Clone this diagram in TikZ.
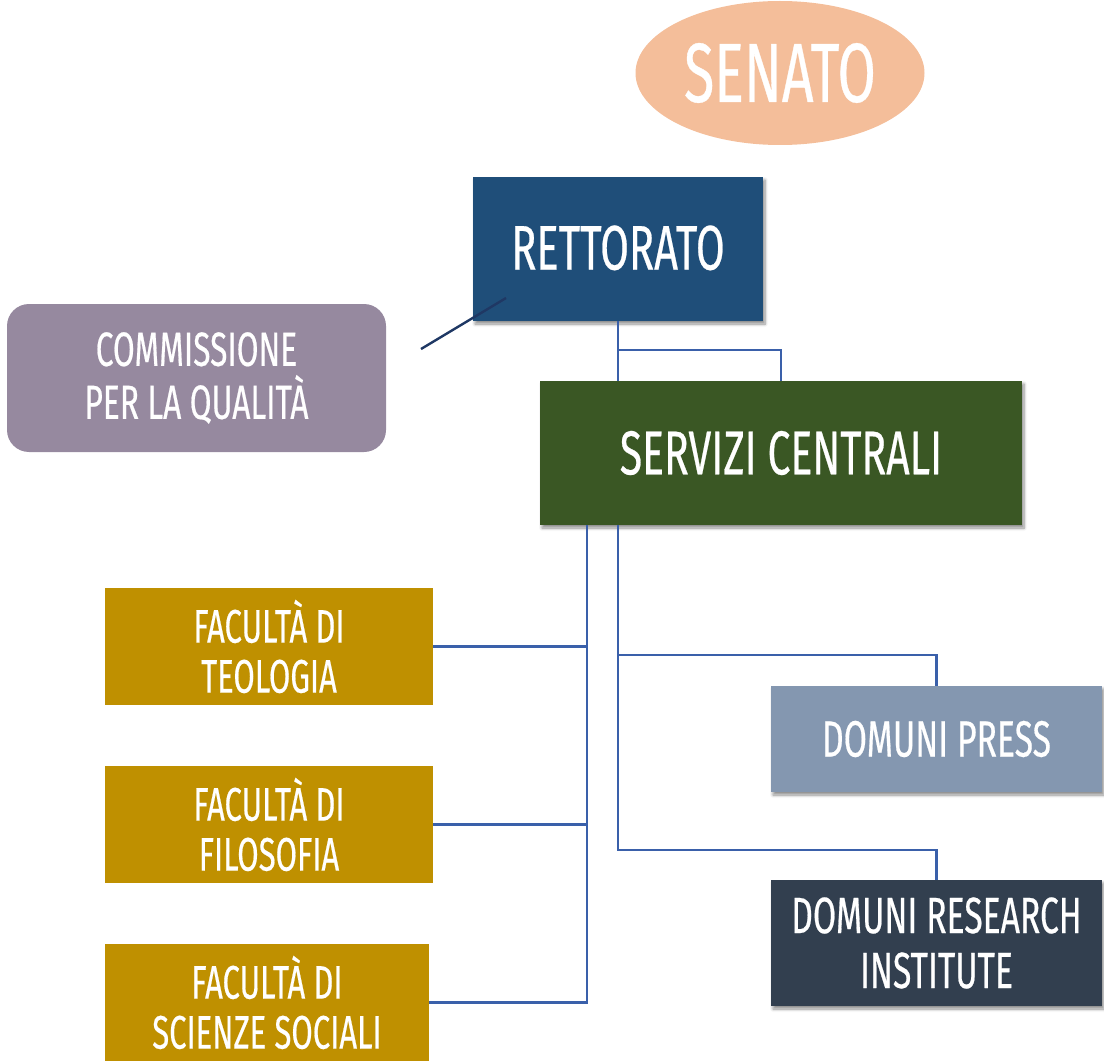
\documentclass[tikz,border=0pt]{standalone}
\usepackage{fontspec}
\usetikzlibrary{shapes.geometric,shadows.blur}
\newfontfamily\bb{Fira Sans}[FakeStretch=0.66,FakeBold=0.4]
\definecolor{senatoC}{HTML}{F4BE9A}
\definecolor{rettC}{HTML}{1F4E79}
\definecolor{servC}{HTML}{3A5724}
\definecolor{commC}{HTML}{96899F}
\definecolor{facC}{HTML}{BF9000}
\definecolor{pressC}{HTML}{8497B0}
\definecolor{resC}{HTML}{323F4F}
\definecolor{lineC}{HTML}{3A60AA}
\definecolor{navyC}{HTML}{1F3864}
\tikzset{
  box/.style={rectangle, inner sep=0pt, text=white, align=center, font=\bb},
  shad/.style={blur shadow={shadow blur steps=6, shadow xshift=2pt, shadow yshift=-3pt, shadow opacity=45, shadow blur radius=3pt}},
  conn/.style={draw=lineC, line width=2.4pt},
}
\begin{document}
\begin{tikzpicture}[x=1pt,y=-1pt]
\useasboundingbox (0,0) rectangle (1104,1062);
\node[box, ellipse, fill=senatoC, minimum width=289pt, minimum height=144pt, font=\bb\fontsize{84}{90}\selectfont] (senato) at (780,73) {SENATO};
\node[box, shad, fill=rettC, minimum width=290pt, minimum height=144pt, font=\bb\fontsize{63}{66}\selectfont] (rett) at (618,249) {\raisebox{3pt}{RETTORATO}};
\node[box, shad, fill=servC, minimum width=482pt, minimum height=144pt, font=\bb\fontsize{62}{66}\selectfont] (serv) at (781,453) {SERVIZI CENTRALI};
\node[box, fill=commC, rounded corners=22pt, minimum width=379pt, minimum height=148pt, font=\bb\fontsize{48}{53}\selectfont] (comm) at (196.5,378) {COMMISSIONE\\PER LA QUALITÀ};
\node[box, fill=facC, minimum width=328pt, minimum height=117pt, font=\bb\fontsize{47}{50}\selectfont] (fac1) at (269,646.5) {FACULTÀ DI\\TEOLOGIA};
\node[box, fill=facC, minimum width=328pt, minimum height=117pt, font=\bb\fontsize{47}{50}\selectfont] (fac2) at (269,824.5) {FACULTÀ DI\\FILOSOFIA};
\node[box, fill=facC, minimum width=324pt, minimum height=117pt, font=\bb\fontsize{47}{50}\selectfont] (fac3) at (267,1002.5) {FACULTÀ DI\\SCIENZE SOCIALI};
\node[box, shad, fill=pressC, minimum width=331pt, minimum height=106pt, font=\bb\fontsize{51}{56}\selectfont] (press) at (936.5,739) {DOMUNI PRESS};
\node[box, shad, fill=resC, minimum width=331pt, minimum height=126pt, font=\bb\fontsize{51}{55}\selectfont] (res) at (936.5,943) {DOMUNI RESEARCH\\INSTITUTE};
% connectors
\coordinate (j1) at (618,350);
\draw[conn] (rett.south) -- (rett.south |- serv.north);
\draw[conn] (j1) -| (serv.north);
\coordinate (s1) at (587,525);
\coordinate (s2) at (618,525);
\draw[conn] (s1) |- (fac3.east);
\draw[conn] (fac1.east) -- (fac1.east -| s1);
\draw[conn] (fac2.east) -- (fac2.east -| s1);
\coordinate (b1) at (618,655);
\coordinate (b2) at (618,850);
\draw[conn] (s2) -- (b2) -| (res.north);
\draw[conn] (b1) -| (press.north);
\coordinate (c1) at (421,349);
\coordinate (c2) at (506,298);
\draw[navyC, line width=2.4pt] (c1) -- (c2);
\end{tikzpicture}
\end{document}
